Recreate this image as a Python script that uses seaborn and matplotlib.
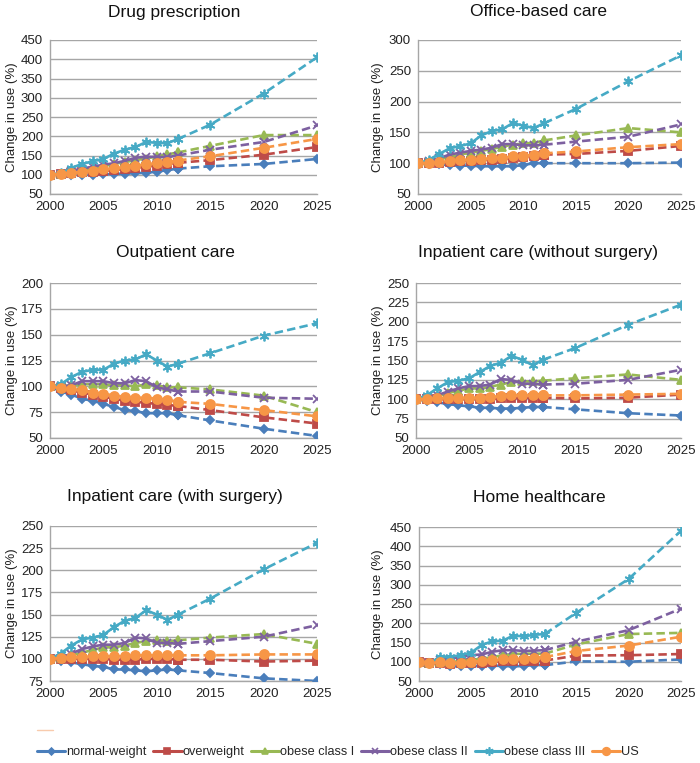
import matplotlib
matplotlib.use("Agg")
import matplotlib.pyplot as plt
from matplotlib.lines import Line2D
import seaborn as sns
import pandas as pd

sns.set_theme(style="white")
plt.rcParams['font.family'] = ['Liberation Sans', 'DejaVu Sans']

years = [2000, 2001, 2002, 2003, 2004, 2005, 2006, 2007, 2008, 2009, 2010, 2011, 2012, 2015, 2020, 2025]
groups = ["normal-weight", "overweight", "obese class I", "obese class II", "obese class III", "US"]
titles = ["Drug prescription", "Office-based care", "Outpatient care",
          "Inpatient care (without surgery)", "Inpatient care (with surgery)", "Home healthcare"]
ylims = [(50, 450, 50), (50, 300, 50), (50, 200, 25), (50, 250, 25), (75, 250, 25), (50, 450, 50)]

drug_prescription = {
    "normal-weight":   [100, 101, 100, 100, 100, 101, 102, 103, 104, 105, 108, 112, 116, 122, 128, 141],
    "overweight":      [100, 102, 104, 106, 108, 110, 112, 115, 118, 121, 124, 128, 131, 138, 152, 172],
    "obese class I":   [100, 103, 107, 112, 117, 122, 128, 133, 138, 142, 148, 153, 158, 175, 203, 203],
    "obese class II":  [100, 103, 110, 116, 121, 126, 130, 136, 144, 147, 146, 146, 150, 165, 185, 228],
    "obese class III": [100, 104, 118, 128, 135, 141, 155, 165, 172, 185, 183, 182, 193, 230, 311, 405],
    "US":              [100, 102, 105, 108, 111, 114, 117, 120, 124, 127, 130, 133, 137, 148, 170, 193],
}
office_based_care = {
    "normal-weight":   [100, 99, 98, 97, 96, 96, 95, 95, 95, 95, 97, 100, 100, 100, 100, 101],
    "overweight":      [100, 100, 101, 102, 103, 104, 105, 106, 107, 108, 110, 112, 114, 115, 120, 128],
    "obese class I":   [100, 102, 106, 110, 114, 117, 120, 123, 127, 130, 132, 133, 137, 145, 157, 150],
    "obese class II":  [100, 103, 108, 114, 117, 120, 122, 125, 131, 131, 129, 129, 130, 135, 143, 163],
    "obese class III": [100, 105, 115, 124, 128, 132, 145, 152, 155, 165, 161, 157, 165, 188, 233, 275],
    "US":              [100, 100, 102, 103, 105, 106, 107, 108, 109, 111, 112, 114, 116, 119, 126, 131],
}
outpatient_care = {
    "normal-weight":   [100, 95, 92, 88, 86, 83, 80, 77, 76, 74, 74, 74, 72, 67, 59, 52],
    "overweight":      [100, 98, 96, 94, 92, 90, 88, 86, 85, 84, 83, 82, 81, 77, 70, 64],
    "obese class I":   [100, 100, 101, 102, 102, 102, 101, 101, 100, 102, 101, 99, 99, 97, 91, 75],
    "obese class II":  [100, 100, 101, 105, 105, 105, 103, 103, 106, 105, 99, 97, 95, 95, 89, 88],
    "obese class III": [100, 102, 109, 114, 116, 116, 122, 125, 126, 131, 125, 119, 122, 132, 149, 161],
    "US":              [100, 98, 97, 96, 94, 93, 91, 90, 89, 89, 88, 87, 85, 83, 77, 71],
}
inpatient_no_surgery = {
    "normal-weight":   [100, 98, 96, 94, 92, 91, 89, 89, 88, 88, 89, 90, 90, 87, 82, 79],
    "overweight":      [100, 100, 100, 100, 100, 100, 100, 100, 101, 101, 102, 102, 102, 101, 102, 106],
    "obese class I":   [100, 101, 104, 108, 111, 114, 114, 116, 119, 122, 123, 123, 124, 127, 132, 125],
    "obese class II":  [100, 101, 105, 110, 114, 117, 117, 119, 126, 125, 120, 120, 119, 120, 125, 138],
    "obese class III": [100, 105, 114, 122, 124, 127, 135, 143, 147, 156, 151, 144, 151, 166, 196, 222],
    "US":              [100, 100, 101, 102, 102, 102, 102, 103, 104, 105, 105, 105, 105, 105, 106, 107],
}
inpatient_surgery = {
    "normal-weight":   [100, 98, 96, 94, 92, 91, 88, 88, 87, 86, 87, 88, 87, 84, 78, 75],
    "overweight":      [100, 100, 100, 100, 100, 100, 99, 99, 99, 100, 100, 100, 99, 99, 97, 98],
    "obese class I":   [100, 101, 104, 107, 110, 113, 113, 115, 118, 120, 121, 120, 121, 124, 128, 117],
    "obese class II":  [100, 101, 106, 111, 114, 116, 116, 118, 124, 123, 118, 118, 117, 120, 125, 138],
    "obese class III": [100, 106, 115, 122, 124, 127, 136, 143, 146, 155, 150, 144, 150, 168, 201, 231],
    "US":              [100, 101, 102, 102, 103, 103, 103, 103, 104, 104, 104, 104, 104, 104, 105, 105],
}
home_healthcare = {
    "normal-weight":   [100, 96, 93, 88, 88, 89, 89, 90, 89, 88, 89, 92, 91, 101, 100, 106],
    "overweight":      [100, 97, 96, 95, 96, 97, 98, 100, 101, 101, 102, 102, 103, 116, 117, 120],
    "obese class I":   [100, 98, 99, 100, 101, 105, 108, 112, 117, 120, 121, 121, 121, 145, 172, 175],
    "obese class II":  [100, 97, 104, 108, 113, 117, 119, 126, 130, 130, 128, 129, 130, 152, 182, 238],
    "obese class III": [100, 96, 113, 113, 117, 124, 144, 153, 155, 168, 166, 170, 172, 227, 315, 440],
    "US":              [100, 96, 99, 97, 98, 100, 102, 104, 106, 107, 108, 111, 112, 128, 142, 165],
}
panels = [drug_prescription, office_based_care, outpatient_care,
          inpatient_no_surgery, inpatient_surgery, home_healthcare]

colors = {"normal-weight": "#4A7EBB", "overweight": "#BE4B48", "obese class I": "#98B954",
          "obese class II": "#7D60A0", "obese class III": "#46AAC5", "US": "#F79646"}
markers = {"normal-weight": "D", "overweight": "s", "obese class I": "^",
           "obese class II": "x", "obese class III": (6, 2, 0), "US": "o"}
msizes = {"normal-weight": 4.5, "overweight": 5.5, "obese class I": 5.5,
          "obese class II": 6, "obese class III": 7, "US": 6.5}

W, H = 700, 763
fig = plt.figure(figsize=(7.0, 7.63), dpi=100)

# axes boxes in pixels: left, top, right, bottom
boxes = [(50, 40, 317, 194), (418, 40, 681, 194),
         (50, 283, 317, 438), (416, 283, 681, 438),
         (50, 526, 317, 681), (419, 527, 681, 681)]
title_pos = [(174, 12), (539, 12), (175, 252), (538, 252), (175, 497), (539, 497)]
ylabel_x = [18, 384, 18, 384, 18, 384]

grid_col = "#A6A6A6"
for i, (data, title, (y0, y1, ystep), box) in enumerate(zip(panels, titles, ylims, boxes)):
    l, t, r, b = box
    ax = fig.add_axes([l / W, 1 - b / H, (r - l) / W, (b - t) / H])
    rows = []
    for g in groups:
        for yr, v in zip(years, data[g]):
            rows.append({"year": yr, "value": v, "group": g})
    df = pd.DataFrame(rows)
    for g in groups:
        sub = df[df.group == g]
        solid = sub[sub.year <= 2012]
        dashed = sub[sub.year >= 2012]
        sns.lineplot(data=dashed, x="year", y="value", ax=ax, color=colors[g],
                     linestyle=(0, (3.2, 1.6)), linewidth=1.9, marker=markers[g],
                     markersize=msizes[g], markeredgecolor=colors[g], markeredgewidth=1.3,
                     errorbar=None, legend=False, zorder=3)
        sns.lineplot(data=solid, x="year", y="value", ax=ax, color=colors[g],
                     linewidth=1.9, marker=markers[g], markersize=msizes[g],
                     markeredgecolor=colors[g], markeredgewidth=1.3,
                     errorbar=None, legend=False, zorder=3)
    ax.set_xlim(2000, 2025)
    ax.set_ylim(y0, y1)
    ax.set_xticks(range(2000, 2026, 5))
    ax.set_yticks(range(y0, y1 + 1, ystep))
    ax.yaxis.grid(True, color=grid_col, linewidth=1.0, zorder=0)
    ax.xaxis.grid(False)
    ax.set_axisbelow(True)
    for s in ["top", "right"]:
        ax.spines[s].set_visible(False)
    for s in ["left", "bottom"]:
        ax.spines[s].set_color(grid_col)
        ax.spines[s].set_linewidth(1.0)
    ax.tick_params(axis="both", which="major", direction="out", length=3,
                   width=1.0, color=grid_col, labelsize=9.5, labelcolor="#222222", pad=2)
    ax.set_xlabel("")
    ax.set_ylabel("Change in use (%)", fontsize=9.5, color="#222222")
    ax.yaxis.set_label_coords((ylabel_x[i] - l) / (r - l), 0.5)
    tx, ty = title_pos[i]
    fig.text(tx / W, 1 - ty / H, title, ha="center", va="center", fontsize=12.5, color="#111111")

handles = [Line2D([0], [0], color=colors[g], linewidth=2.2, marker=markers[g],
                  markersize=msizes[g] - 1, markeredgecolor=colors[g], markeredgewidth=1.2)
           for g in groups]
fig.legend(handles, groups, loc="center", bbox_to_anchor=(338 / W, 1 - 752 / H), ncol=6,
           frameon=False, fontsize=9.2, handlelength=2.2, handletextpad=0.1,
           columnspacing=0.5, markerscale=1.0)

# small stray mark near the legend
fig.add_artist(Line2D([37 / W, 53 / W], [1 - 730 / H, 1 - 730 / H], color="#F8CBAD",
                      linewidth=1.0, transform=fig.transFigure))

fig.savefig("out.png", dpi=100)
